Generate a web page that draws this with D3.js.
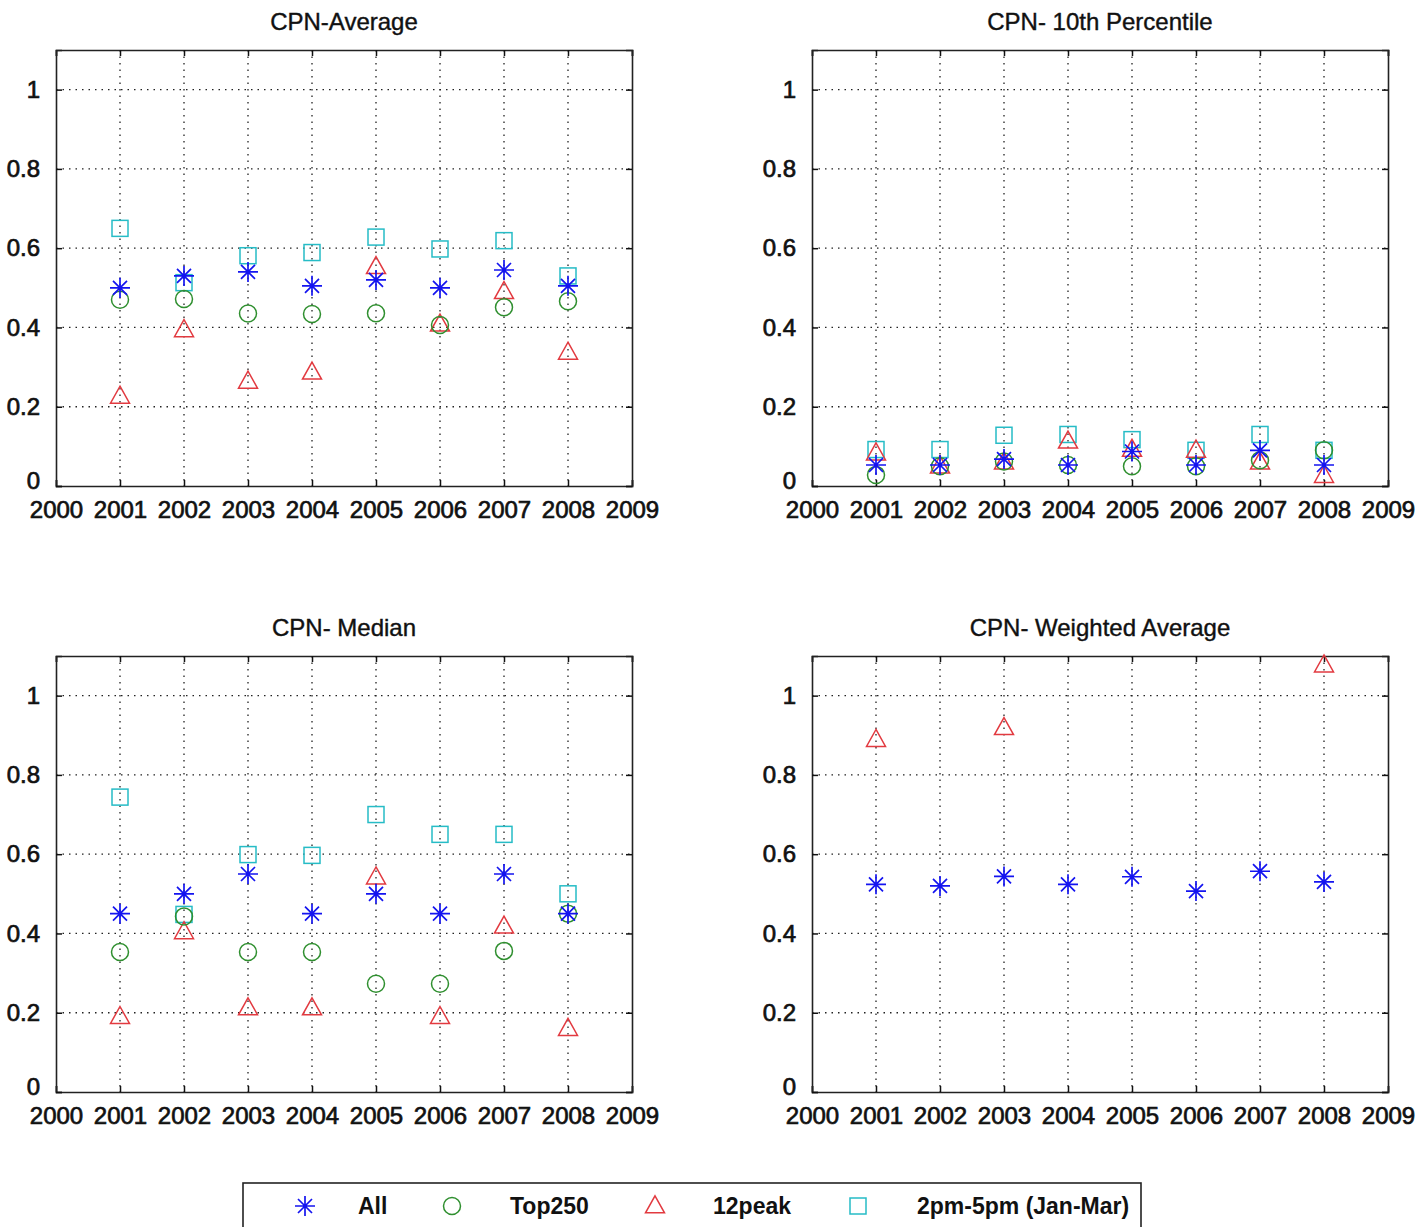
<!DOCTYPE html>
<html>
<head>
<meta charset="utf-8">
<script src="https://cdn.jsdelivr.net/npm/d3@7"></script>
<style>
  body { margin: 0; background: #fff; }
  text { font-family: "Liberation Sans", Arial, sans-serif; fill: #111; }
</style>
</head>
<body>
<svg id="chart" width="1415" height="1227"></svg>
<script>
// years on the x axis
const years = [2001, 2002, 2003, 2004, 2005, 2006, 2007, 2008];
const xTicks = [2000, 2001, 2002, 2003, 2004, 2005, 2006, 2007, 2008, 2009];
const yTicks = [0, 0.2, 0.4, 0.6, 0.8, 1];

const seriesNames = ["All", "Top250", "12peak", "2pm-5pm (Jan-Mar)"];

// CPN-Average
const avgAll    = [0.50, 0.53, 0.54, 0.505, 0.52, 0.50, 0.545, 0.505];
const avgTop250 = [0.47, 0.472, 0.435, 0.434, 0.436, 0.406, 0.451, 0.466];
const avgPeak   = [0.226, 0.394, 0.264, 0.287, 0.553, 0.408, 0.49, 0.337];
const avgPm     = [0.65, 0.513, 0.581, 0.589, 0.628, 0.598, 0.619, 0.53];

// CPN- 10th Percentile
const p10All    = [0.053, 0.053, 0.068, 0.053, 0.087, 0.053, 0.09, 0.053];
const p10Top250 = [0.028, 0.05, 0.062, 0.053, 0.05, 0.05, 0.065, 0.09];
const p10Peak   = [0.083, 0.05, 0.06, 0.113, 0.092, 0.09, 0.06, 0.026];
const p10Pm     = [0.092, 0.092, 0.128, 0.13, 0.117, 0.09, 0.13, 0.09];

// CPN- Median
const medAll    = [0.45, 0.50, 0.55, 0.45, 0.50, 0.45, 0.55, 0.45];
const medTop250 = [0.353, 0.443, 0.353, 0.353, 0.273, 0.273, 0.356, 0.45];
const medPeak   = [0.19, 0.404, 0.212, 0.212, 0.542, 0.19, 0.418, 0.16];
const medPm     = [0.744, 0.448, 0.599, 0.597, 0.70, 0.65, 0.65, 0.50];

// CPN- Weighted Average (only All and 12peak have values)
const wAll  = [0.524, 0.52, 0.544, 0.524, 0.543, 0.507, 0.557, 0.53];
const wPeak = [0.889, null, 0.919, null, null, null, null, 1.077];

const panels = [
  { title: "CPN-Average", left: 56, top: 50, series: [avgAll, avgTop250, avgPeak, avgPm] },
  { title: "CPN- 10th Percentile", left: 812, top: 50, series: [p10All, p10Top250, p10Peak, p10Pm] },
  { title: "CPN- Median", left: 56, top: 656, series: [medAll, medTop250, medPeak, medPm] },
  { title: "CPN- Weighted Average", left: 812, top: 656, series: [wAll, null, wPeak, null] }
];

const colors = ["#1414f0", "#2f8f2f", "#e23a40", "#26bcc6"];
const shapes = ["star", "circle", "triangle", "square"];
const plotW = 576, plotH = 436;

const svg = d3.select("#chart");

// marker drawing helper
function drawMarker(g, shape, color, cx, cy) {
  if (shape === "star") {
    const a = 10, d = 7;
    const p = `M${cx - a},${cy}L${cx + a},${cy}M${cx},${cy - a}L${cx},${cy + a}` +
              `M${cx - d},${cy - d}L${cx + d},${cy + d}M${cx - d},${cy + d}L${cx + d},${cy - d}`;
    g.append("path").attr("d", p).attr("stroke", color).attr("stroke-width", 1.7).attr("fill", "none");
  } else if (shape === "circle") {
    g.append("circle").attr("cx", cx).attr("cy", cy).attr("r", 8.5)
      .attr("stroke", color).attr("stroke-width", 1.5).attr("fill", "none");
  } else if (shape === "triangle") {
    const h = 17, w = 19;
    const p = `M${cx},${cy - h * 0.6}L${cx + w / 2},${cy + h * 0.4}L${cx - w / 2},${cy + h * 0.4}Z`;
    g.append("path").attr("d", p).attr("stroke", color).attr("stroke-width", 1.5).attr("fill", "none");
  } else {
    g.append("rect").attr("x", cx - 8).attr("y", cy - 8).attr("width", 16).attr("height", 16)
      .attr("stroke", color).attr("stroke-width", 1.5).attr("fill", "none");
  }
}

panels.forEach(panel => {
  const x = d3.scaleLinear().domain([2000, 2009]).range([0, plotW]);
  const y = d3.scaleLinear().domain([0, 1.1]).range([plotH, 0]);

  const g = svg.append("g").attr("transform", `translate(${panel.left},${panel.top})`);

  // dotted grid
  g.selectAll(".vgrid").data(years).enter().append("line")
    .attr("x1", d => x(d)).attr("x2", d => x(d)).attr("y1", 0).attr("y2", plotH)
    .attr("stroke", "#222").attr("stroke-width", 1.3).attr("stroke-dasharray", "1.5,5");
  g.selectAll(".hgrid").data(yTicks.slice(1)).enter().append("line")
    .attr("x1", 0).attr("x2", plotW).attr("y1", d => y(d)).attr("y2", d => y(d))
    .attr("stroke", "#222").attr("stroke-width", 1.3).attr("stroke-dasharray", "1.5,5");

  // axes with inward ticks on all four sides
  const bottom = g.append("g").attr("transform", `translate(0,${plotH})`)
    .call(d3.axisBottom(x).tickValues(xTicks).tickFormat(d3.format("d")).tickSize(-6).tickPadding(15));
  const topAx = g.append("g")
    .call(d3.axisTop(x).tickValues(xTicks).tickFormat("").tickSize(-6));
  const leftAx = g.append("g")
    .call(d3.axisLeft(y).tickValues(yTicks).tickFormat(d => d === 0 ? "0" : d === 1 ? "1" : d3.format(".1f")(d)).tickSize(-6).tickPadding(16));
  const rightAx = g.append("g").attr("transform", `translate(${plotW},0)`)
    .call(d3.axisRight(y).tickValues(yTicks).tickFormat("").tickSize(-6));

  [bottom, topAx, leftAx, rightAx].forEach(ax => {
    ax.select(".domain").attr("stroke", "#222").attr("stroke-width", 1.6);
    ax.selectAll(".tick line").attr("stroke", "#111").attr("stroke-width", 1.5);
    ax.selectAll("text").style("font-size", "24px").attr("fill", "#111")
      .attr("stroke", "#111").attr("stroke-width", 0.7);
  });
  bottom.selectAll("text").attr("dy", "0.71em");
  // lift the "0" label a little, as in the reference
  leftAx.selectAll(".tick").filter(d => d === 0).select("text").attr("dy", "0.12em");

  // title
  g.append("text").attr("x", plotW / 2).attr("y", -20)
    .attr("text-anchor", "middle").style("font-size", "24px")
    .attr("stroke", "#111").attr("stroke-width", 0.4)
    .text(panel.title);

  // markers, drawn back to front
  const order = [3, 2, 1, 0];
  order.forEach(si => {
    const vals = panel.series[si];
    if (!vals) return;
    const mg = g.append("g");
    vals.forEach((v, i) => {
      if (v === null) return;
      drawMarker(mg, shapes[si], colors[si], x(years[i]), y(v));
    });
  });
});

// legend
const legend = svg.append("g");
legend.append("rect").attr("x", 243).attr("y", 1183).attr("width", 898).attr("height", 60)
  .attr("fill", "#fff").attr("stroke", "#222").attr("stroke-width", 1.6);
const markerX = [305, 452, 655, 858];
const textX = [358, 510, 713, 917];
seriesNames.forEach((name, i) => {
  drawMarker(legend, shapes[i], colors[i], markerX[i], 1206);
  legend.append("text").attr("x", textX[i]).attr("y", 1214)
    .style("font-size", "23px").style("font-weight", "bold")
    .text(name);
});
</script>
</body>
</html>
